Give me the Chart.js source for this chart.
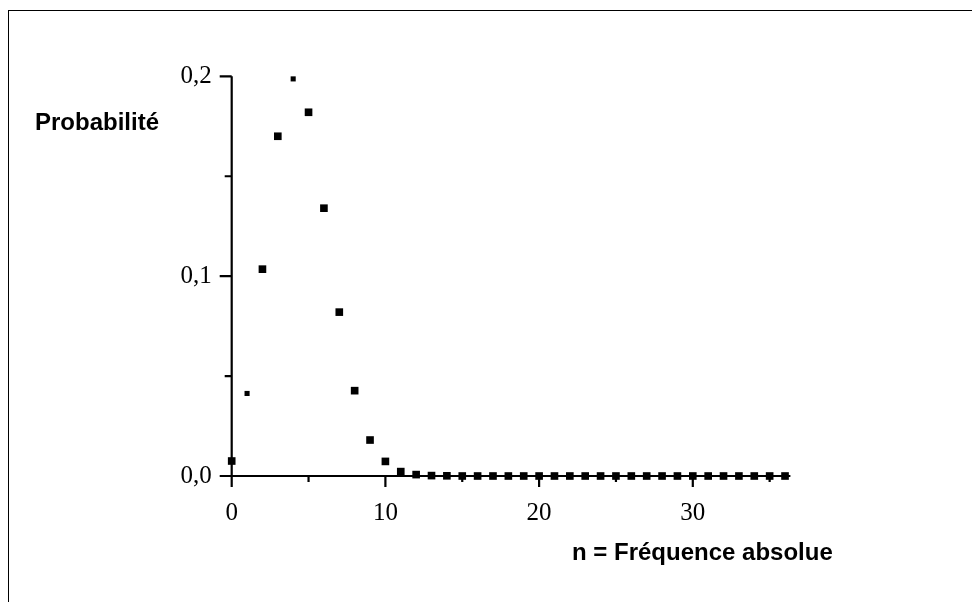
<!DOCTYPE html>
<html lang="fr">
<head>
    <meta charset="UTF-8">
    <title>Probabilité - Fréquence absolue</title>
    <script src="https://cdn.jsdelivr.net/npm/chart.js"></script>
    <style>
        body {
            margin: 0;
            background-color: #ffffff;
        }
        #wrap {
            position: relative;
            width: 972px;
            height: 602px;
            overflow: hidden;
        }
        #frame {
            position: absolute;
            left: 8px;
            top: 10px;
            width: 980px;
            height: 600px;
            border-top: 1.5px solid #000;
            border-left: 1.5px solid #000;
        }
        canvas {
            position: absolute;
            left: 0;
            top: 0;
        }
        .titre {
            position: absolute;
            font-family: "Liberation Sans", Arial, sans-serif;
            font-weight: bold;
            font-size: 24px;
            line-height: 24px;
            color: #000;
            white-space: nowrap;
        }
    </style>
</head>
<body>
    <div id="wrap">
        <div id="frame"></div>
        <canvas id="chart1" width="972" height="602"></canvas>
        <div class="titre" style="left:35px; top:110px;">Probabilité</div>
        <div class="titre" style="left:572px; top:540px;">n = Fréquence absolue</div>
    </div>

    <script>
        // Données
        const frequences = [0, 1, 2, 3, 4, 5, 6, 7, 8, 9, 10, 11, 12, 13, 14, 15, 16, 17, 18,
                            19, 20, 21, 22, 23, 24, 25, 26, 27, 28, 29, 30, 31, 32, 33, 34, 35, 36];
        const probabilites = [0.0075, 0.0413, 0.1035, 0.170, 0.1987, 0.182, 0.134, 0.082, 0.0427,
                              0.018, 0.0073, 0.0022, 0.0007, 0.0002, 0.0001, 0, 0, 0, 0,
                              0, 0, 0, 0, 0, 0, 0, 0, 0, 0, 0, 0, 0, 0, 0, 0, 0, 0];
        const petitsPoints = [1, 4];

        const xTicksMajeurs = [0, 10, 20, 30];
        const xTicksMineurs = [5, 15, 25, 35];
        const xEtiquettes = ['0', '10', '20', '30'];
        const yTicksMajeurs = [0, 0.1, 0.2];
        const yTicksMineurs = [0.05, 0.15];
        const yEtiquettes = ['0,0', '0,1', '0,2'];

        const points = frequences.map((n, i) => ({x: n, y: probabilites[i]}));

        // axes dessinés à la main (ticks longs / courts)
        const axesPlugin = {
            id: 'axes',
            beforeDatasetsDraw(chart) {
                const ctx = chart.ctx;
                const x = chart.scales.x;
                const y = chart.scales.y;
                const x0 = x.getPixelForValue(0);
                const y0 = y.getPixelForValue(0);
                ctx.save();
                ctx.strokeStyle = '#000';
                ctx.lineWidth = 2.2;
                ctx.beginPath();
                ctx.moveTo(x0, y.getPixelForValue(0.2));
                ctx.lineTo(x0, y0 + 11);
                ctx.moveTo(x0 - 11, y0);
                ctx.lineTo(x.right, y0);
                xTicksMajeurs.forEach(v => {
                    const px = x.getPixelForValue(v);
                    ctx.moveTo(px, y0);
                    ctx.lineTo(px, y0 + 11);
                });
                xTicksMineurs.forEach(v => {
                    const px = x.getPixelForValue(v);
                    ctx.moveTo(px, y0);
                    ctx.lineTo(px, y0 + 6);
                });
                yTicksMajeurs.forEach(v => {
                    const py = y.getPixelForValue(v);
                    ctx.moveTo(x0, py);
                    ctx.lineTo(x0 - 12, py);
                });
                yTicksMineurs.forEach(v => {
                    const py = y.getPixelForValue(v);
                    ctx.moveTo(x0, py);
                    ctx.lineTo(x0 - 7, py);
                });
                ctx.stroke();
                ctx.restore();
            }
        };

        const ctx = document.getElementById('chart1').getContext('2d');
        new Chart(ctx, {
            type: 'scatter',
            data: {
                datasets: [{
                    label: 'Probabilité',
                    data: points,
                    pointStyle: 'rect',
                    pointRadius: c => petitsPoints.includes(c.dataIndex) ? 3.6 : 5.4,
                    backgroundColor: '#000',
                    borderWidth: 0,
                    clip: false
                }]
            },
            plugins: [axesPlugin],
            options: {
                responsive: false,
                animation: false,
                layout: {
                    padding: {top: 76.3, right: 181.6, left: 0, bottom: 0}
                },
                scales: {
                    x: {
                        type: 'linear',
                        min: 0,
                        max: 36.35,
                        afterFit: s => { s.height = 126; },
                        afterBuildTicks: s => { s.ticks = xTicksMajeurs.map(v => ({value: v})); },
                        grid: {display: false},
                        border: {display: false},
                        ticks: {
                            autoSkip: false,
                            maxRotation: 0,
                            padding: 14,
                            color: '#000',
                            font: {family: '"Liberation Serif", "Times New Roman", serif', size: 25},
                            callback: (v, i) => xEtiquettes[i]
                        }
                    },
                    y: {
                        type: 'linear',
                        min: 0,
                        max: 0.2,
                        afterFit: s => { s.width = 231.7; },
                        afterBuildTicks: s => { s.ticks = yTicksMajeurs.map(v => ({value: v})); },
                        grid: {display: false},
                        border: {display: false},
                        ticks: {
                            autoSkip: false,
                            padding: 12,
                            color: '#000',
                            font: {family: '"Liberation Serif", "Times New Roman", serif', size: 25},
                            callback: (v, i) => yEtiquettes[i]
                        }
                    }
                },
                plugins: {
                    legend: {display: false},
                    tooltip: {enabled: false}
                }
            }
        });
    </script>
</body>
</html>
